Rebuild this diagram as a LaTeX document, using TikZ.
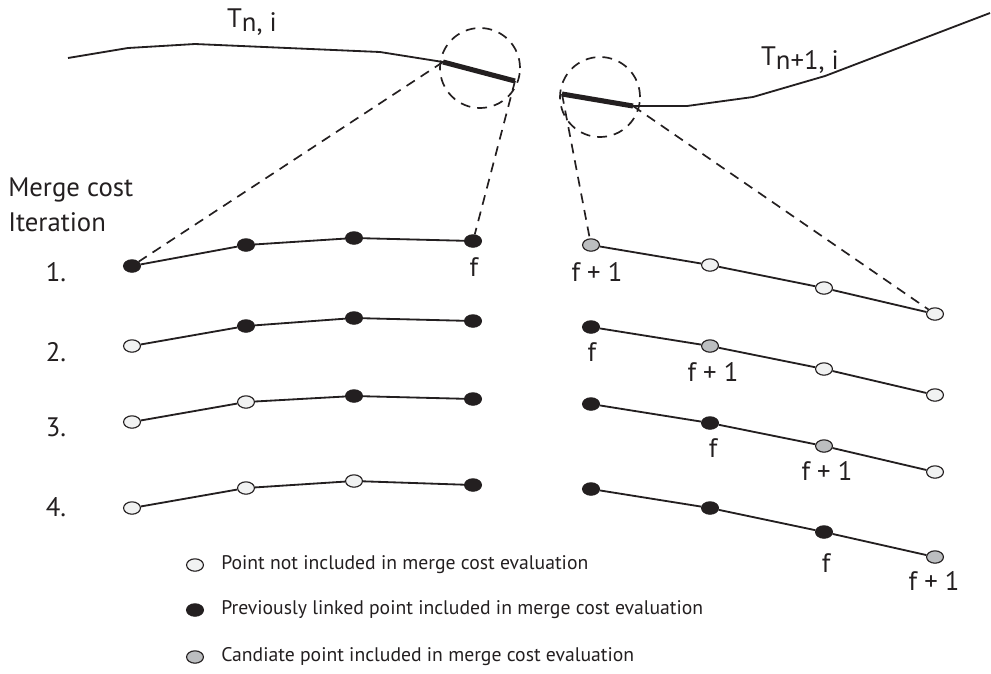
\documentclass[tikz,border=0pt]{standalone}
\usepackage{fontspec}
\setmainfont{PT Sans}
\usetikzlibrary{shapes.geometric}
\definecolor{ink}{HTML}{231F20}
\definecolor{ptwhite}{HTML}{F1F2F2}
\definecolor{ptgrey}{HTML}{BCBEC0}
\tikzset{
  pt/.style={ellipse,draw=ink,line width=0.8pt,minimum width=12pt,minimum height=8.8pt,inner sep=0pt},
  ptw/.style={pt,fill=ptwhite},
  ptb/.style={pt,fill=ink},
  ptg/.style={pt,fill=ptgrey},
  seg/.style={draw=ink,line width=1.3pt},
  thickseg/.style={draw=ink,line width=3.6pt},
  dsh/.style={draw=ink,line width=1.2pt,dash pattern=on 7pt off 5pt},
  lbl/.style={font=\fontsize{19}{21}\selectfont,text=ink,inner sep=0pt},
  leg/.style={font=\fontsize{14}{16}\selectfont,text=ink,inner sep=0pt,anchor=west}
}
\begin{document}
\begin{tikzpicture}[x=0.025cm,y=-0.025cm]
\useasboundingbox (0,0) rectangle (991,673);
% top curves
\coordinate (a0) at (68,58);
\coordinate (a1) at (128,48);
\coordinate (a2) at (195,44);
\coordinate (a3) at (380,52);
\coordinate (a4) at (443,62);
\coordinate (a5) at (515,81);
\draw[seg] (a0) -- (a1) -- (a2) -- (a3) -- (a4);
\draw[thickseg] (a4) -- (a5);
\coordinate (b0) at (562,94);
\coordinate (b1) at (633,106);
\coordinate (b2) at (687,106);
\coordinate (b3) at (753,97);
\coordinate (b4) at (825,76);
\coordinate (b5) at (990,13);
\draw[thickseg] (b0) -- (b1);
\draw[seg] (b1) -- (b2) -- (b3) -- (b4) -- (b5);
\node[circle,dsh,minimum size=80*0.025cm,inner sep=0pt] (cl) at (480,68) {};
\node[circle,dsh,minimum size=80*0.025cm,inner sep=0pt] (cr) at (600,97) {};
\node[lbl] (tl) at (252,22) {T\raisebox{-0.35ex}{n, i}};
\node[lbl] (tr) at (800,60) {T\raisebox{-0.35ex}{n+1, i}};
% left labels
\node[lbl,anchor=west] (mc) at (8,190) {Merge cost};
\node[lbl,anchor=west] (it) at (8,222) {Iteration};
\node[lbl] (n1) at (56,272) {1.};
\node[lbl] (n2) at (56,352) {2.};
\node[lbl] (n3) at (56,427) {3.};
\node[lbl] (n4) at (56,507) {4.};
% row 1
\node[ptb] (L11) at (132,266) {};
\node[ptb] (L12) at (246,245) {};
\node[ptb] (L13) at (354,238) {};
\node[ptb] (L14) at (473,241) {};
\node[ptg] (R11) at (591,245) {};
\node[ptw] (R12) at (710,265) {};
\node[ptw] (R13) at (824,288) {};
\node[ptw] (R14) at (935,314) {};
% row 2
\node[ptw] (L21) at (132,346) {};
\node[ptb] (L22) at (246,326) {};
\node[ptb] (L23) at (354,318) {};
\node[ptb] (L24) at (473,321) {};
\node[ptb] (R21) at (591,327) {};
\node[ptg] (R22) at (710,346) {};
\node[ptw] (R23) at (824,369) {};
\node[ptw] (R24) at (935,395) {};
% row 3
\node[ptw] (L31) at (132,422) {};
\node[ptw] (L32) at (246,402) {};
\node[ptb] (L33) at (354,396) {};
\node[ptb] (L34) at (473,399) {};
\node[ptb] (R31) at (591,404) {};
\node[ptb] (R32) at (710,423) {};
\node[ptg] (R33) at (824,446) {};
\node[ptw] (R34) at (935,472) {};
% row 4
\node[ptw] (L41) at (132,508) {};
\node[ptw] (L42) at (246,488) {};
\node[ptw] (L43) at (354,481) {};
\node[ptb] (L44) at (473,485) {};
\node[ptb] (R41) at (591,489) {};
\node[ptb] (R42) at (710,508) {};
\node[ptb] (R43) at (824,532) {};
\node[ptg] (R44) at (935,557) {};
\foreach \r in {1,2,3,4}{
  \draw[seg] (L\r1) -- (L\r2) -- (L\r3) -- (L\r4);
  \draw[seg] (R\r1) -- (R\r2) -- (R\r3) -- (R\r4);
}
% dashed zoom lines
\draw[dsh] (a4) -- (L11);
\draw[dsh] (a5) -- (L14);
\draw[dsh] (b0) -- (R11);
\draw[dsh] (b1) -- (R14);
% f labels
\node[lbl] (f1) at (474,267) {f};
\node[lbl] (g1) at (597,272) {f + 1};
\node[lbl] (f2) at (592,352) {f};
\node[lbl] (g2) at (713,372) {f + 1};
\node[lbl] (f3) at (713,448) {f};
\node[lbl] (g3) at (827,471) {f + 1};
\node[lbl] (f4) at (826,563) {f};
\node[lbl] (g4) at (934,581) {f + 1};
% legend
\node[ptw] (k1) at (195,565) {};
\node[ptb] (k2) at (195,610) {};
\node[ptg] (k3) at (195,657) {};
\node[leg] (t1) at (221,565) {Point not included in merge cost evaluation};
\node[leg] (t2) at (221,610) {Previously linked point included in merge cost evaluation};
\node[leg] (t3) at (221,657) {Candiate point included in merge cost evaluation};
\end{tikzpicture}
\end{document}
